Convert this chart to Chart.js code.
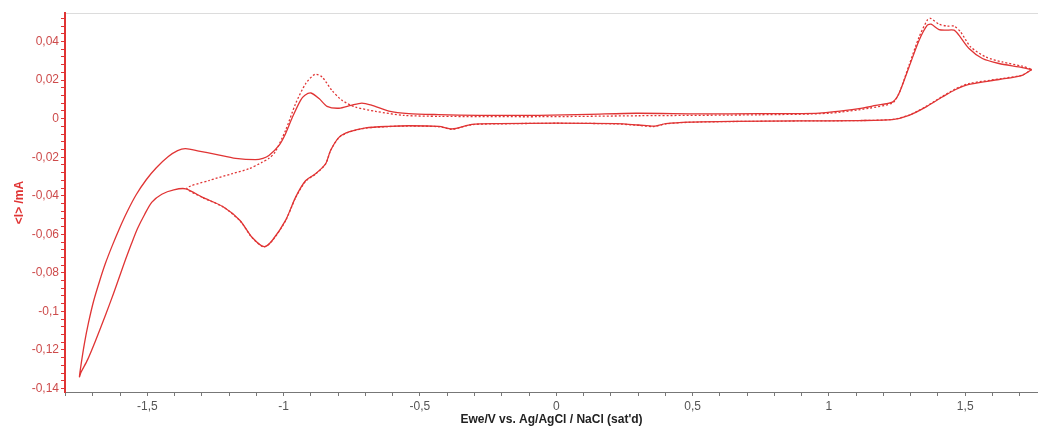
<!DOCTYPE html>
<html>
<head>
<meta charset="utf-8">
<script src="https://cdn.jsdelivr.net/npm/chart.js@4/dist/chart.umd.min.js"></script>
<style>
  html, body { margin: 0; padding: 0; background: #fff; }
  #wrap { width: 1038px; height: 431px; position: relative; }
</style>
</head>
<body>
<div id="wrap"><canvas id="cv"></canvas></div>
<script>
// cycle with vertex at -1.75 V (solid)
const solidE = [
  1.744, 1.709, 1.624, 1.514, 1.465, 1.416, 1.355, 1.294, 1.233, 1.110, 0.890, 0.645, 0.486, 0.402, 0.358, 0.303, 0.218, 0.0,
  -0.211, -0.309, -0.382, -0.430, -0.540, -0.614, -0.699, -0.761, -0.797, -0.828, -0.846, -0.883, -0.919, -0.956, -0.993,
  -1.042, -1.072, -1.116, -1.160, -1.222, -1.299, -1.359, -1.403, -1.447, -1.484, -1.510, -1.536, -1.558, -1.580,
  -1.602, -1.624, -1.653, -1.690, -1.719, -1.744, -1.749,
  -1.742, -1.731, -1.716, -1.697, -1.675, -1.653, -1.629, -1.603, -1.574, -1.541, -1.504, -1.467, -1.423, -1.389, -1.360,
  -1.311, -1.249, -1.176, -1.103, -1.076, -1.054, -1.017, -0.993, -0.968, -0.938, -0.922, -0.900, -0.870, -0.841, -0.797,
  -0.753, -0.713, -0.676, -0.614, -0.541, -0.431, -0.284, -0.063, 0.120, 0.292, 0.523, 0.744, 0.964, 1.110, 1.172, 1.233,
  1.257, 1.294, 1.331, 1.361, 1.375, 1.404, 1.428, 1.459, 1.477, 1.514, 1.563, 1.624, 1.697, 1.744
];
const solidI = [
  0.0255, 0.0225, 0.0203, 0.0178, 0.0151, 0.0112, 0.0060, 0.0017, -0.0005, -0.0010, -0.0012, -0.0014, -0.0018, -0.0026,
  -0.0039, -0.0033, -0.0026, -0.0023, -0.0026, -0.0030, -0.0053, -0.0040, -0.0037, -0.0040, -0.0048, -0.0069, -0.0097,
  -0.0165, -0.0234, -0.0286, -0.0321, -0.0407, -0.0528, -0.0632, -0.0664, -0.0615, -0.0528, -0.0457, -0.0407,
  -0.0364, -0.0369, -0.0392, -0.0434, -0.0497, -0.0570, -0.0648, -0.0731, -0.0819, -0.0907, -0.1017, -0.1152, -0.1250,
  -0.1318, -0.1339,
  -0.1266, -0.1168, -0.1060, -0.0946, -0.0842, -0.0748, -0.0660, -0.0572, -0.0483, -0.0395, -0.0317, -0.0255, -0.0197,
  -0.0166, -0.0156, -0.0168, -0.0185, -0.0206, -0.0213, -0.0206, -0.0191, -0.0139, -0.0078, 0.0007, 0.0095, 0.0121, 0.0133,
  0.0104, 0.0064, 0.0054, 0.0069, 0.0081, 0.0069, 0.0039, 0.0026, 0.0021, 0.0017, 0.0017, 0.0022, 0.0028, 0.0025, 0.0026,
  0.0029, 0.0052, 0.0069, 0.0086, 0.0130, 0.0268, 0.0407, 0.0485, 0.0490, 0.0462, 0.0459, 0.0459, 0.0433, 0.0364, 0.0312,
  0.0286, 0.0268, 0.0255
];

// cycle with vertex at -1.35 V (dotted)
const dottedE = [
  1.744, 1.709, 1.635, 1.514, 1.465, 1.416, 1.355, 1.294, 1.233, 1.110, 0.890, 0.645, 0.486, 0.402, 0.358, 0.303, 0.218, 0.0,
  -0.211, -0.309, -0.382, -0.430, -0.540, -0.614, -0.699, -0.761, -0.797, -0.828, -0.846, -0.883, -0.919, -0.956, -0.993,
  -1.042, -1.072, -1.116, -1.160, -1.222, -1.299, -1.355,
  -1.274, -1.190, -1.127, -1.080, -1.054, -1.032, -0.993, -0.956, -0.919, -0.885, -0.859, -0.823, -0.786, -0.736, -0.663,
  -0.559, -0.430, -0.063, 0.303, 0.744, 1.000, 1.147, 1.233, 1.257, 1.294, 1.331, 1.361, 1.373, 1.404, 1.434, 1.459,
  1.483, 1.520, 1.575, 1.636, 1.709, 1.744
];
const dottedI = [
  0.0255, 0.0226, 0.0208, 0.0182, 0.0155, 0.0115, 0.0062, 0.0018, -0.0004, -0.0010, -0.0012, -0.0015, -0.0019, -0.0027,
  -0.0041, -0.0035, -0.0027, -0.0024, -0.0027, -0.0031, -0.0055, -0.0042, -0.0038, -0.0041, -0.0049, -0.0070, -0.0098,
  -0.0166, -0.0235, -0.0288, -0.0324, -0.0410, -0.0530, -0.0634, -0.0666, -0.0617, -0.0530, -0.0458, -0.0408, -0.0361,
  -0.0321, -0.0286, -0.0260, -0.0227, -0.0206, -0.0175, -0.0061, 0.0078, 0.0182, 0.0230, 0.0216, 0.0147, 0.0095, 0.0060,
  0.0038, 0.0017, 0.0012, 0.0010, 0.0015, 0.0020, 0.0028, 0.0054, 0.0081, 0.0130, 0.0277, 0.0424, 0.0511, 0.0520, 0.0490,
  0.0480, 0.0480, 0.0450, 0.0372, 0.0320, 0.0294, 0.0272, 0.0255
];

const xRange = [-1.802, 1.767];
const yRange = [-0.1418, 0.0548];
const xStep = 0.1, xLabelStep = 0.5;
const yStep = 0.004, yLabelStep = 0.02;

const RED = "rgb(224,52,52)";
const FONT = "'Liberation Sans', Arial, sans-serif";

function toPoints(xs, ys) {
  return xs.map((x, i) => ({ x, y: ys[i] }));
}

function commaLabel(value, every) {
  const r = Math.round(value / every);
  if (Math.abs(value / every - r) > 1e-6) return "";
  return String(parseFloat((r * every).toFixed(3))).replace(".", ",");
}

// evenly spaced ticks that stay inside the axis range
function stepTicks(step) {
  return (scale) => {
    const ticks = [];
    for (let k = Math.ceil(scale.min / step - 1e-6); k * step <= scale.max + 1e-9; k++) {
      ticks.push({ value: +(k * step).toFixed(6) });
    }
    scale.ticks = ticks;
  };
}

new Chart(document.getElementById("cv"), {
  type: "scatter",
  data: {
    datasets: [
      {
        data: toPoints(solidE, solidI),
        showLine: true,
        borderColor: RED,
        borderWidth: 1.3,
        pointRadius: 0,
        tension: 0.25,
      },
      {
        data: toPoints(dottedE, dottedI),
        showLine: true,
        borderColor: RED,
        borderWidth: 1.3,
        borderDash: [2, 2],
        pointRadius: 0,
        tension: 0.25,
      },
    ],
  },
  options: {
    responsive: true,
    maintainAspectRatio: false,
    animation: false,
    layout: { padding: 0 },
    plugins: { legend: { display: false }, tooltip: { enabled: false } },
    scales: {
      x: {
        type: "linear",
        position: "bottom",
        bounds: "data",
        min: xRange[0],
        max: xRange[1],
        afterBuildTicks: stepTicks(xStep),
        afterFit: (s) => { s.height = 39; s.paddingLeft = 0; s.paddingRight = 0; },
        border: { color: "#777", width: 1 },
        grid: { drawOnChartArea: false, color: "#777", tickLength: 4 },
        ticks: {
          autoSkip: false,
          maxRotation: 0,
          padding: 3,
          color: "#555",
          font: { family: FONT, size: 12 },
          callback: (v) => commaLabel(v, xLabelStep),
        },
        title: {
          display: true,
          text: "Ewe/V vs. Ag/AgCl / NaCl (sat'd)",
          color: "#222",
          font: { family: FONT, size: 12, weight: "bold" },
          padding: { top: 0, bottom: 4 },
        },
      },
      xTop: {
        type: "linear",
        position: "top",
        min: xRange[0],
        max: xRange[1],
        afterFit: (s) => { s.height = 13; s.paddingLeft = 0; s.paddingRight = 0; },
        border: { color: "#dcdcdc", width: 1 },
        grid: { display: true, drawOnChartArea: false, drawTicks: false },
        ticks: { display: false },
      },
      y: {
        type: "linear",
        bounds: "data",
        min: yRange[0],
        max: yRange[1],
        afterBuildTicks: stepTicks(yStep),
        afterFit: (s) => { s.width = 65; s.paddingTop = 0; s.paddingBottom = 0; },
        border: { color: RED, width: 2 },
        grid: { drawOnChartArea: false, color: RED, tickLength: 4 },
        ticks: {
          autoSkip: false,
          padding: 2,
          color: "rgb(205,75,75)",
          font: { family: FONT, size: 12 },
          callback: (v) => commaLabel(v, yLabelStep),
        },
        title: {
          display: true,
          text: "<I> /mA",
          color: RED,
          font: { family: FONT, size: 12, weight: "bold" },
          padding: { top: 12, bottom: 0 },
        },
      },
    },
  },
});
</script>
</body>
</html>
